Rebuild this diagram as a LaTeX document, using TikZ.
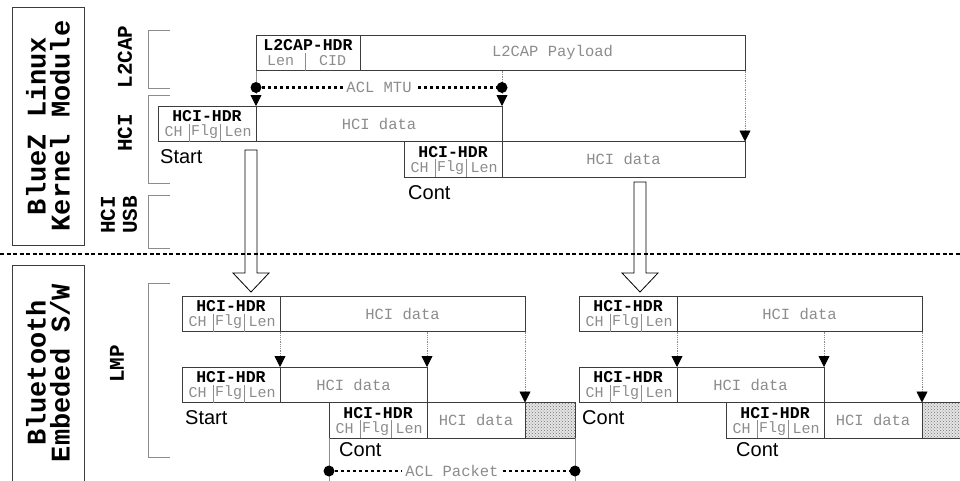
\documentclass[tikz,border=0pt]{standalone}
\usepackage{fontspec}
\setmainfont{Liberation Sans}
\setmonofont{Liberation Mono}
\usetikzlibrary{positioning,calc,arrows.meta,patterns}

\definecolor{pktline}{HTML}{3C3C3C}
\definecolor{pktgray}{HTML}{8C8C8C}

\tikzset{
  pkt/.style={draw=pktline, line width=0.9pt, inner sep=0pt, outer sep=0pt,
    minimum height=35.5pt, anchor=north west},
  side/.style={draw=pktline, line width=1pt, inner sep=0pt, outer sep=0pt,
    minimum width=72pt, anchor=north west},
  sidetxt/.style={font=\ttfamily\bfseries\fontsize{27}{24}\selectfont,
    rotate=90, align=center},
  layertxt/.style={font=\ttfamily\bfseries\fontsize{21}{22}\selectfont,
    rotate=90, align=center},
  hdrtxt/.style={font=\ttfamily\bfseries\fontsize{16.5}{16.5}\selectfont, inner sep=0pt},
  fldtxt/.style={font=\ttfamily\fontsize{15}{15}\selectfont, text=pktgray, inner sep=0pt},
  datatxt/.style={font=\ttfamily\fontsize{15.5}{15.5}\selectfont, text=pktgray},
  kind/.style={font=\fontsize{20}{20}\selectfont, anchor=base west, inner sep=0pt},
  brk/.style={draw=pktgray, line width=0.8pt},
  fall/.style={draw=pktgray, line width=0.8pt, densely dotted,
    -{Triangle[length=11pt, width=11pt, color=black]}},
  spanline/.style={draw=black, line width=2.6pt, dash pattern=on 3.5pt off 2.5pt},
  dotnode/.style={circle, fill=black, inner sep=0pt, minimum size=11pt},
  hollow/.style={draw=black, line width=0.8pt, fill=white},
  pad/.style={pkt, minimum width=50pt, preaction={fill=black!10},
    pattern=crosshatch dots, pattern color=black!55},
}

% HCI header cell: name, top-left corner
\newcommand{\hcihdr}[2]{%
  \node[pkt, minimum width=98pt] (#1) at (#2) {};
  \node[hdrtxt] at ($(#1.north)+(0,10.5)$) {HCI-HDR};
  \draw[pktgray, line width=0.6pt]
    ($(#1.south west)+(31,0)$) -- ++(0,-18)
    ($(#1.south west)+(62,0)$) -- ++(0,-18);
  \node[fldtxt] at ($(#1.south west)+(15.5,-9.5)$) {CH};
  \node[fldtxt] at ($(#1.south west)+(46.5,-9.5)$) {Flg};
  \node[fldtxt] at ($(#1.south west)+(80,-9.5)$) {Len};
}

\begin{document}
\begin{tikzpicture}[x=1pt, y=-1pt]
\useasboundingbox (0,0) rectangle (960,480);

% side boxes
\node[side, minimum height=238pt] (host) at (12,7) {};
\node[sidetxt] at (host.center) {BlueZ Linux\\Kernel Module};
\node[side, minimum height=230pt] (ctrl) at (12,265) {};
\node[sidetxt] at ($(ctrl.north)+(0,108)$) {Bluetooth\\Embeded S/W};

% layer labels and brackets
\node[layertxt] (l2lbl) at (125,57) {L2CAP};
\node[layertxt] (hcilbl) at (125,133) {HCI};
\node[layertxt] (usblbl) at (119,215) {HCI\\USB};
\node[layertxt] (lmplbl) at (117,364) {LMP};
\draw[brk] (170,30) -| (148,88) -- (170,88);
\draw[brk] (170,95) -| (148,183) -- (170,183);
\draw[brk] (170,195) -| (148,248) -- (170,248);
\draw[brk] (170,283) -| (148,457) -- (170,457);

% L2CAP frame
\node[pkt, minimum width=104pt] (l2h) at (256,35) {};
\node[pkt, minimum width=385pt] (l2d) at (l2h.north east) {};
\node[datatxt] at (l2d.center) {L2CAP Payload};
\node[hdrtxt] at ($(l2h.north)+(0,10)$) {L2CAP-HDR};
\draw[pktgray, line width=0.6pt] ($(l2h.south west)+(49,0)$) -- ++(0,-18);
\node[fldtxt] at ($(l2h.south west)+(24.5,-9.5)$) {Len};
\node[fldtxt] at ($(l2h.south west)+(76.5,-9.5)$) {CID};

% HCI fragments
\hcihdr{hsh}{158,106}
\node[pkt, minimum width=246pt] (hsd) at (hsh.north east) {};
\node[datatxt] at (hsd.center) {HCI data};
\node[kind] at ($(hsh.south west)+(2,22)$) {Start};
\hcihdr{hch}{404,141.5}
\node[pkt, minimum width=243pt] (hcd) at (hch.north east) {};
\node[datatxt] at (hcd.center) {HCI data};
\node[kind] at ($(hch.south west)+(4,22)$) {Cont};

% ACL MTU
\node[dotnode] (mtul) at ($(l2h.south west)+(0,17)$) {};
\node[dotnode] (mtur) at (mtul -| hsd.north east) {};
\draw[pktgray, line width=0.7pt] (l2h.south west) -- (mtul);
\draw[pktgray, line width=0.7pt, densely dotted] (mtur |- l2h.south) -- (mtur);
\draw[spanline] (mtul) -- node[datatxt, fill=white, inner sep=3pt] {ACL MTU} (mtur);
\draw[fall] (mtul) -- (hsd.north west);
\draw[fall] (mtur) -- (hsd.north east);
\draw[fall] (l2d.south east) -- (hcd.north east);

% hand-over to the controller
\draw[hollow] (245,150) -- (257,150) -- (257,273) -- (269,273) -- (251,292)
  -- (233,273) -- (245,273) -- cycle;
\draw[hollow] (634,182) -- (646,182) -- (646,273) -- (658,273) -- (640,292)
  -- (622,273) -- (634,273) -- cycle;
\draw[line width=1.2pt, dash pattern=on 4pt off 2.5pt] (0,254) -- (960,254);

% LMP packets
\foreach \dx/\kindtext/\i in {0/Start/1, 397/Cont/2} {
  \hcihdr{ah\i}{182+\dx,296}
  \node[pkt, minimum width=245pt] (ad\i) at (ah\i.north east) {};
  \node[datatxt] at (ad\i.center) {HCI data};
  \hcihdr{bh\i}{182+\dx,367}
  \node[pkt, minimum width=147pt] (bd\i) at (bh\i.north east) {};
  \node[datatxt] at (bd\i.center) {HCI data};
  \node[kind] at ($(bh\i.south west)+(3,22)$) {\kindtext};
  \hcihdr{ch\i}{329+\dx,402.5}
  \node[pkt, minimum width=98pt] (cd\i) at (ch\i.north east) {};
  \node[datatxt] at (cd\i.center) {HCI data};
  \node[pad] (cp\i) at (cd\i.north east) {};
  \node[kind] at ($(ch\i.south west)+(10,18)$) {Cont};
  \draw[fall] (ad\i.south west) -- (bd\i.north west);
  \draw[fall] (bd\i.north east |- ad\i.south) -- (bd\i.north east);
  \draw[fall] (ad\i.south east) -- (cd\i.north east);
}

% ACL packet
\draw[pktgray, line width=0.7pt] (ch1.south west) -- ++(0,50)
  (cp1.south east) -- ++(0,50);
\node[dotnode] (pktl) at ($(ch1.south west)+(0,33)$) {};
\node[dotnode] (pktr) at (pktl -| cp1.south east) {};
\draw[spanline] (pktl) -- node[datatxt, fill=white, inner sep=3pt] {ACL Packet} (pktr);
\end{tikzpicture}
\end{document}
